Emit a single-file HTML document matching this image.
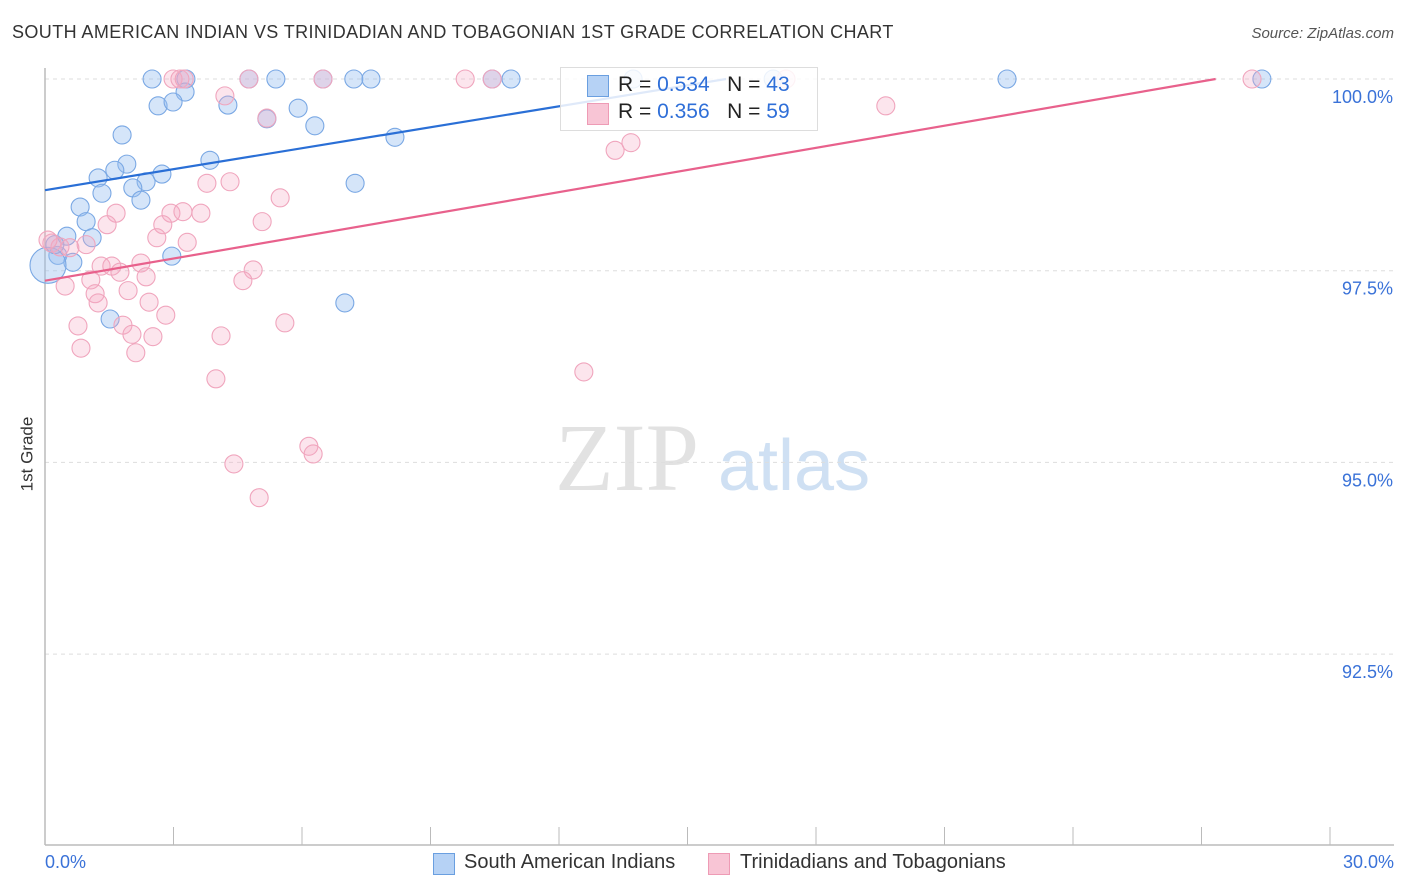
<!DOCTYPE html>
<html><head><meta charset="utf-8"><style>
body{margin:0;background:#fff;font-family:"Liberation Sans",sans-serif;}
#wrap{position:relative;width:1406px;height:892px;overflow:hidden;}
.t{position:absolute;white-space:nowrap;}
</style></head><body>
<div id="wrap">
<div class="t" style="left:12px;top:22px;font-size:18px;letter-spacing:0.4px;color:#333;">SOUTH AMERICAN INDIAN VS TRINIDADIAN AND TOBAGONIAN 1ST GRADE CORRELATION CHART</div>
<div class="t" style="right:12px;top:25px;font-size:15px;color:#555;font-style:italic;">Source: ZipAtlas.com</div>
<div class="t" style="left:-10px;top:444px;font-size:17px;color:#333;transform:rotate(-90deg);">1st Grade</div>
<svg id="svg" width="1406" height="892" style="position:absolute;left:0;top:0"></svg>
</div>
<script>
const blueX=[2.50,3.29,4.76,5.39,6.49,7.21,7.61,10.44,10.88,13.73,17.00,22.46,28.41,3.27,2.64,2.99,4.27,5.91,5.18,6.30,8.17,1.80,3.85,1.91,1.63,2.73,1.24,2.36,2.05,1.33,2.24,7.24,0.82,0.96,0.51,1.10,0.30,0.65,2.96,7.00,1.52,0.07,0.23];
const blueY=[100,100,100,100,100,100,100,100,100,100,100,100,100,99.83,99.65,99.70,99.66,99.62,99.48,99.39,99.24,99.27,98.94,98.89,98.81,98.76,98.71,98.66,98.58,98.51,98.42,98.64,98.33,98.14,97.95,97.93,97.70,97.61,97.69,97.08,96.87,97.57,97.84];
const pinkX=[2.99,3.15,3.25,4.76,6.49,9.81,10.44,17.30,28.18,4.20,5.18,19.63,13.31,13.68,3.78,4.32,5.49,1.66,2.94,3.22,3.64,1.45,2.75,5.07,2.61,3.32,0.16,0.35,0.58,0.96,2.24,1.31,1.56,1.75,4.86,1.07,2.36,4.62,0.47,1.94,1.17,2.43,1.24,2.82,0.77,1.82,5.60,2.03,2.52,4.11,0.84,2.12,3.99,12.58,6.16,6.26,4.41,5.00,0.07];
const pinkY=[100,100,100,100,100,100,100,100,100,99.78,99.49,99.65,99.07,99.17,98.64,98.66,98.45,98.25,98.25,98.27,98.25,98.10,98.10,98.14,97.93,97.87,97.86,97.81,97.80,97.84,97.60,97.56,97.56,97.48,97.51,97.38,97.42,97.37,97.30,97.24,97.20,97.09,97.08,96.92,96.78,96.79,96.82,96.67,96.64,96.65,96.49,96.43,96.09,96.18,95.21,95.11,94.98,94.54,97.90];
const blueTrend=[[0,98.55],[15.9,100]];
const pinkTrend=[[0,97.37],[27.33,100]];
const yTicks=[100,97.5,95,92.5];
const yTickLabels=["100.0%","97.5%","95.0%","92.5%"];
const xTicks=[0,3,6,9,12,15,18,21,24,27,30];
const sx=v=>45+v*(1285/30);
const sy=v=>79+(100-v)*(191.7/2.5);
const svg=document.getElementById('svg');
const NS='http://www.w3.org/2000/svg';
function mk(tag,attrs,parent){const e=document.createElementNS(NS,tag);for(const k in attrs)e.setAttribute(k,attrs[k]);(parent||svg).appendChild(e);return e;}
let wm=mk('text',{x:555,y:490,'font-size':96,fill:'#e2e2e2','font-family':'Liberation Serif, serif'});wm.textContent='ZIP';


let wm2=mk('text',{x:718,y:490,'font-size':72,fill:'#cfe0f3','font-family':'Liberation Sans, sans-serif'});wm2.textContent='atlas';


yTicks.forEach((v,i)=>{
 const g=mk('line',{x1:45,x2:1394,y1:sy(v),y2:sy(v),stroke:'#dddddd','stroke-dasharray':'4,4'});
 
 
 const t=mk('text',{x:1393,y:sy(v)+24,'text-anchor':'end','font-size':18,fill:'#3a72d8'});t.textContent=yTickLabels[i];
 
 
});
let ax=mk('line',{x1:45,x2:1394,y1:845,y2:845,stroke:'#bbb','stroke-width':1.5});


let ay=mk('line',{x1:45,x2:45,y1:68,y2:845,stroke:'#bbb','stroke-width':1.5});


xTicks.forEach(v=>{
 const l=mk('line',{x1:sx(v),x2:sx(v),y1:827,y2:845,stroke:'#bbb'});
 
 
});
function pts(X,Y,fill,stroke,name){
 X.forEach((x,i)=>{
  const big=(name==='blue-point'&&i===41);
  const c=mk('circle',{cx:sx(x),cy:sy(Y[i]),r:big?18:9,fill:fill,stroke:stroke,'stroke-width':1.1});
  
  
 });
}
pts(blueX,blueY,'rgba(150,190,240,0.40)','#7aa8e4','blue-point');
pts(pinkX,pinkY,'rgba(245,170,195,0.30)','#f0a5bd','pink-point');
let bl=mk('line',{x1:sx(blueTrend[0][0]),y1:sy(blueTrend[0][1]),x2:sx(blueTrend[1][0]),y2:sy(blueTrend[1][1]),stroke:'#2a6fd6','stroke-width':2.2});


let pl=mk('line',{x1:sx(pinkTrend[0][0]),y1:sy(pinkTrend[0][1]),x2:sx(pinkTrend[1][0]),y2:sy(pinkTrend[1][1]),stroke:'#e8618c','stroke-width':2.2});


</script>
<div class="t" style="left:560px;top:67px;width:256px;height:62px;border:1px solid #ddd;background:rgba(255,255,255,0.85);"></div>
<div class="t" style="left:587px;top:75px;width:20px;height:20px;background:#b6d2f5;border:1px solid #6a9fe0;"></div>
<div class="t" style="left:618px;top:73px;font-size:21px;color:#222;">R = <span style="color:#2f6fd8">0.534</span>&nbsp;&nbsp;&nbsp;N = <span style="color:#2f6fd8">43</span></div>
<div class="t" style="left:587px;top:103px;width:20px;height:20px;background:#f8c5d5;border:1px solid #ee9bb5;"></div>
<div class="t" style="left:618px;top:100px;font-size:21px;color:#222;">R = <span style="color:#2f6fd8">0.356</span>&nbsp;&nbsp;&nbsp;N = <span style="color:#2f6fd8">59</span></div>
<div class="t" style="left:45px;top:852px;font-size:18px;color:#3a72d8;">0.0%</div>
<div class="t" style="right:12px;top:852px;font-size:18px;color:#3a72d8;">30.0%</div>
<div class="t" style="left:433px;top:853px;width:20px;height:20px;background:#b6d2f5;border:1px solid #6a9fe0;"></div>
<div class="t" style="left:464px;top:851px;font-size:20px;color:#333;">South American Indians</div>
<div class="t" style="left:708px;top:853px;width:20px;height:20px;background:#f8c5d5;border:1px solid #ee9bb5;"></div>
<div class="t" style="left:740px;top:851px;font-size:20px;color:#333;">Trinidadians and Tobagonians</div>
</body></html>
